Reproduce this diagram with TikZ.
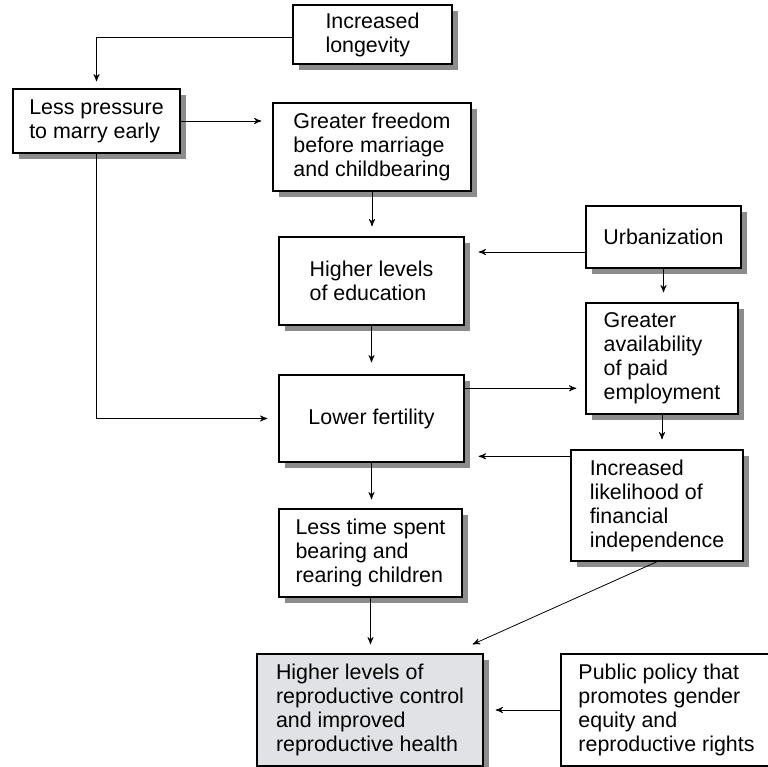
\documentclass[tikz,border=0pt]{standalone}
\usepackage{fontspec}
\setmainfont{Liberation Sans}
\usepackage{tikz}
\usetikzlibrary{arrows, shadows, calc}
\definecolor{shadowgray}{gray}{0.55}
\definecolor{healthfill}{RGB}{225,226,229}
\tikzset{
->, % makes the edges directed
>=stealth', % makes the arrow heads bold
line width=0.6pt, % thin connectors
shorten >=5pt, % small gap before each box
box/.style={rectangle, draw=black, line width=0.7pt, fill=white, align=left,
  font=\fontsize{10.7}{12}\selectfont,
  drop shadow={shadow xshift=3pt, shadow yshift=-3pt, fill=shadowgray, opacity=1}}, % the boxes
}

\begin{document}
\begin{tikzpicture}[x=0.5pt, y=-0.5pt]
  \useasboundingbox (0,0) rectangle (768,767);

  \node[box, minimum width=79.5pt, minimum height=29.5pt] (longevity) at (372.5,34.5) {Increased\\longevity};
  \node[box, minimum width=83.5pt, minimum height=32pt] (pressure) at (96.5,121) {Less pressure\\to marry early};
  \node[box, minimum width=99pt, minimum height=44pt] (freedom) at (372,147) {Greater freedom\\before marriage\\and childbearing};
  \node[box, minimum width=77.5pt, minimum height=31pt] (urban) at (663.5,237) {Urbanization};
  \node[box, minimum width=92.5pt, minimum height=44pt] (educ) at (371.5,281) {Higher levels\\of education};
  \node[box, minimum width=76pt, minimum height=55.5pt] (employ) at (662,358.5) {Greater\\availability\\of paid\\employment};
  \node[box, minimum width=92.5pt, minimum height=43.5pt] (fert) at (371.5,418.5) {Lower fertility};
  \node[box, minimum width=86pt, minimum height=55.5pt] (indep) at (657,505.5) {Increased\\likelihood of\\financial\\independence};
  \node[box, minimum width=91.5pt, minimum height=44pt] (time) at (370.5,553) {Less time spent\\bearing and\\rearing children};
  \node[box, fill=healthfill, minimum width=113pt, minimum height=56pt] (health) at (370,710) {Higher levels of\\reproductive control\\and improved\\reproductive health};
  \node[box, minimum width=105.5pt, minimum height=56pt] (policy) at (666.5,710) {Public policy that\\promotes gender\\equity and\\reproductive rights};

  \coordinate (jtip) at ($(health.north east)+(-5.5pt,4.5pt)$);

  \draw[shorten >=3.5pt] ([yshift=-1.25pt]longevity.west) -| (pressure.north);
  \draw[shorten >=5.5pt] (pressure.east) -- (pressure.east -| freedom.west);
  \draw (freedom.south) -- (freedom.south |- educ.north);
  \draw[shorten >=7pt] ([yshift=-7.5pt]urban.west) -- ([yshift=-7.5pt]urban.west -| educ.east);
  \draw (urban.south) -- (urban.south |- employ.north);
  \draw[shorten >=6pt] (educ.south) -- (fert.north);
  \draw[shorten >=5.5pt] (pressure.south) |- (fert.west);
  \draw[shorten >=4.5pt] ([yshift=-7pt]fert.north east) -- ([yshift=-7pt]fert.north east -| employ.west);
  \draw (employ.south) -- (employ.south |- indep.north);
  \draw[shorten >=7pt] ([yshift=-3.5pt]indep.north west) -- ([yshift=-3.5pt]indep.north west -| fert.east);
  \draw[shorten >=4.5pt] (fert.south) -- (fert.south |- time.north);
  \draw[shorten >=4.5pt] (time.south) -- (time.south |- health.north);
  \draw[shorten >=0pt] (indep.south) -- (jtip);
  \draw[shorten >=6pt] (policy.west) -- (health.east);

\end{tikzpicture}
\end{document}
